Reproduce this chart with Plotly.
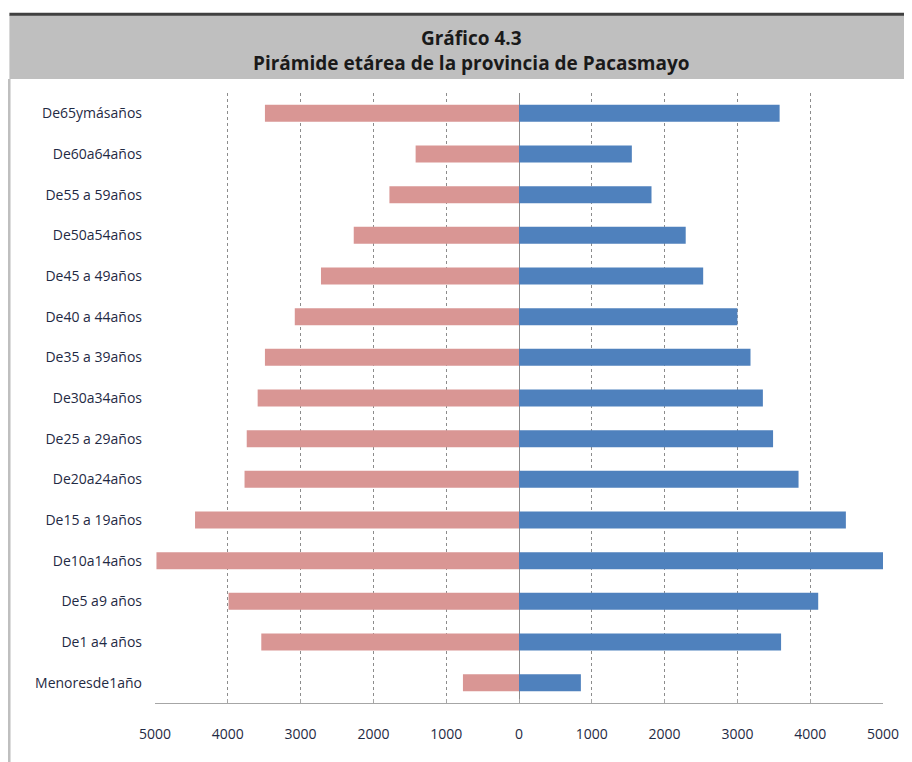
"""
Pirámide etárea de la provincia de Pacasmayo (Gráfico 4.3)
"""

import plotly.graph_objects as go

# ── Data ──────────────────────────────────────────────────────────────────────
GRUPOS = [
    "De65ymásaños", "De60a64años", "De55 a 59años", "De50a54años",
    "De45 a 49años", "De40 a 44años", "De35 a 39años", "De30a34años",
    "De25 a 29años", "De20a24años", "De15 a 19años", "De10a14años",
    "De5 a9 años", "De1 a4 años", "Menoresde1año",
]
IZQUIERDA = [3490, 1420, 1780, 2270, 2720, 3080, 3490, 3590,
             3740, 3770, 4450, 4980, 3990, 3540, 770]
DERECHA = [3580, 1550, 1820, 2290, 2530, 3000, 3180, 3350,
           3490, 3840, 4490, 5000, 4110, 3600, 850]
TICKS = [-5000, -4000, -3000, -2000, -1000, 0, 1000, 2000, 3000, 4000, 5000]

COLOURS = {"izq": "#D99694", "der": "#4F81BD"}
FONT = "Open Sans, Liberation Sans, sans-serif"

fig = go.Figure()
fig.add_trace(go.Bar(
    y=GRUPOS, x=[-v for v in IZQUIERDA], customdata=IZQUIERDA,
    orientation="h", width=0.42, name="Mujeres",
    marker=dict(color=COLOURS["izq"], line=dict(width=0)),
    hovertemplate="%{y}: %{customdata}<extra></extra>",
))
fig.add_trace(go.Bar(
    y=GRUPOS, x=DERECHA,
    orientation="h", width=0.42, name="Hombres",
    marker=dict(color=COLOURS["der"], line=dict(width=0)),
    hovertemplate="%{y}: %{x}<extra></extra>",
))

# header band + frame
fig.add_shape(type="rect", xref="paper", yref="paper",
              x0=-0.2, x1=1.05, y0=1.023, y1=1.128,
              fillcolor="#BFBFBF", line=dict(width=0), layer="below")
fig.add_shape(type="line", xref="paper", yref="paper",
              x0=-0.2, x1=1.05, y0=1.129, y1=1.129,
              line=dict(color="#404040", width=3))
fig.add_shape(type="line", xref="paper", yref="paper",
              x0=-0.2005, x1=-0.2005, y0=-0.1, y1=1.023,
              line=dict(color="#BFBFBF", width=3))

fig.add_annotation(
    xref="paper", yref="paper", x=0.435, y=1.069,
    text="<b>Gráfico 4.3</b><br><b>Pirámide etárea de la provincia de Pacasmayo</b>",
    showarrow=False, font=dict(family=FONT, size=19, color="#1a1a1a"),
    align="center", yanchor="middle",
)

fig.update_layout(
    width=904, height=754,
    barmode="overlay",
    showlegend=False,
    margin=dict(l=147, r=29, t=85, b=59),
    paper_bgcolor="white",
    plot_bgcolor="white",
    font=dict(family=FONT, size=14, color="#1F2A44"),
)
fig.update_xaxes(
    range=[-5000, 5000],
    tickvals=TICKS, ticktext=[str(abs(t)) for t in TICKS],
    showgrid=True, gridcolor="#8C8C8C", griddash="dot", gridwidth=1,
    zeroline=True, zerolinecolor="#8C8C8C", zerolinewidth=1,
    showline=True, linecolor="#A6A6A6", linewidth=1,
    ticks="inside", ticklen=4, tickcolor="#A6A6A6",
    ticklabelstandoff=18,
    tickfont=dict(size=14, color="#1F2A44"),
)
fig.update_yaxes(
    autorange="reversed",
    showgrid=False, showline=False, ticks="",
    ticklabelstandoff=12,
    tickfont=dict(size=14, color="#1F2A44"),
)

fig.write_html("out.html")
